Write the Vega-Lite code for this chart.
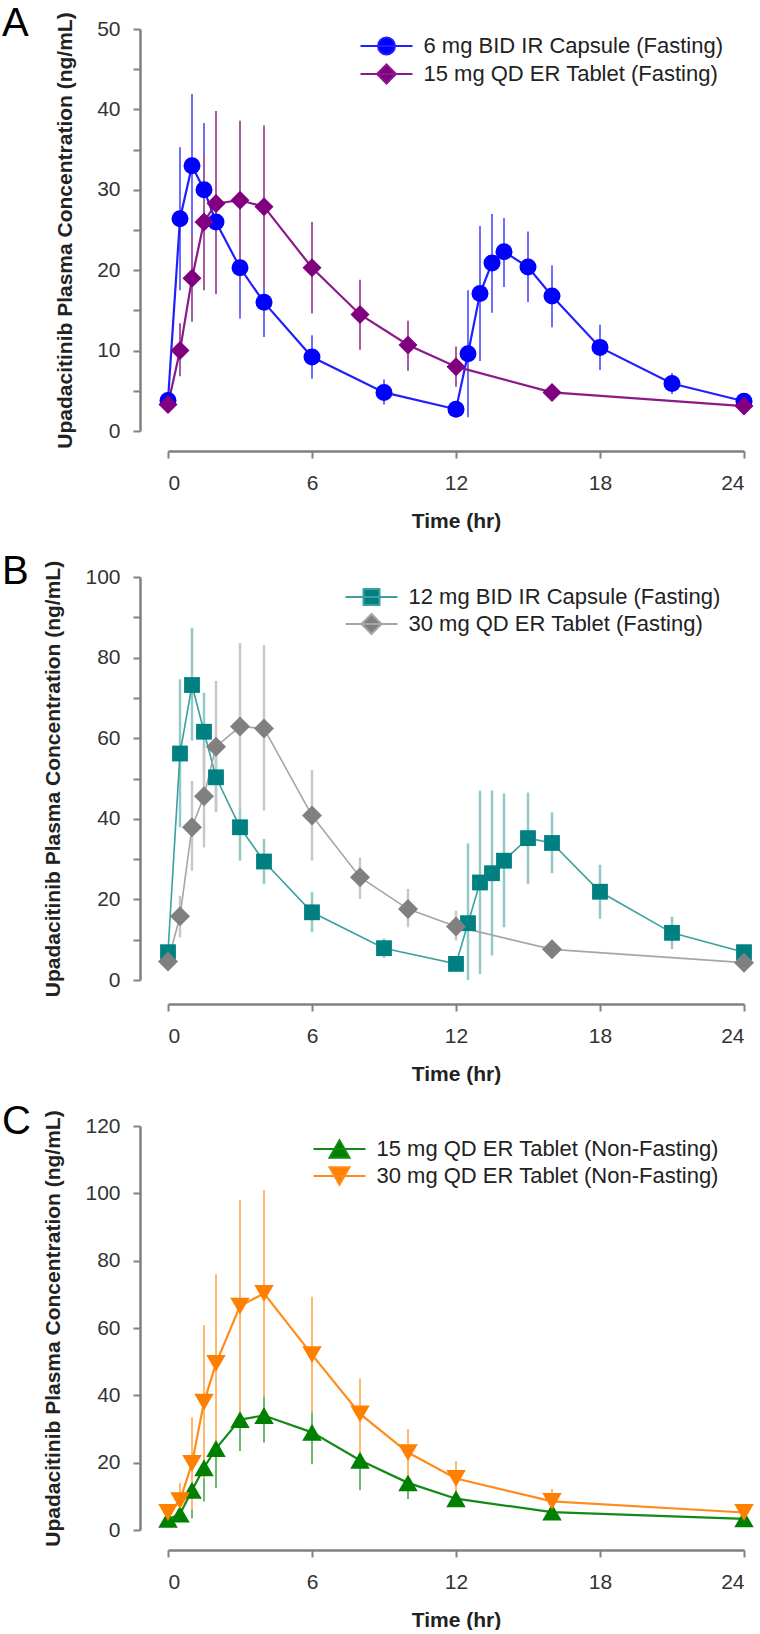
{
"$schema": "https://vega.github.io/schema/vega-lite/v6.json",
"autosize": {"type": "pad"},
"padding": {"left": 2, "top": 3, "right": 0, "bottom": 0},
"background": "white",
"bounds": "flush",
"spacing": 146,
"resolve": {"scale": {"color": "independent", "fill": "independent", "stroke": "independent", "shape": "independent", "size": "independent"}},
"config": {
  "font": "Liberation Sans",
  "view": {"stroke": null},
  "axis": {"grid": false, "domainColor": "#808080", "domainWidth": 2.5, "tickColor": "#808080", "tickWidth": 2, "tickSize": 7,
    "labelFont": "Liberation Sans", "labelFontSize": 21, "labelColor": "#333333",
    "titleFont": "Liberation Sans", "titleFontSize": 21, "titleFontWeight": "bold", "titleColor": "#222222"},
  "legend": {"orient": "none", "labelFont": "Liberation Sans", "labelFontSize": 22, "labelColor": "#222222", "labelLimit": 500,
    "symbolOffset": 15.5, "labelOffset": 26, "rowPadding": 1, "padding": 0, "symbolSize": 4, "symbolStrokeWidth": 2, "symbolOpacity": 1},
  "title": {"font": "Liberation Sans", "fontSize": 40, "fontWeight": "normal", "color": "#000000", "anchor": "start", "frame": "group", "offset": 0}
},
"datasets": {"pk": [
{"panel":"A","series":"6 mg BID IR Capsule (Fasting)","time":0,"conc":3.8,"lo":3.0,"hi":4.6},
{"panel":"A","series":"6 mg BID IR Capsule (Fasting)","time":0.5,"conc":26.4,"lo":17.5,"hi":35.3},
{"panel":"A","series":"6 mg BID IR Capsule (Fasting)","time":1,"conc":33.0,"lo":24.1,"hi":41.9},
{"panel":"A","series":"6 mg BID IR Capsule (Fasting)","time":1.5,"conc":30.0,"lo":21.7,"hi":38.3},
{"panel":"A","series":"6 mg BID IR Capsule (Fasting)","time":2,"conc":26.0,"lo":20.0,"hi":32.0},
{"panel":"A","series":"6 mg BID IR Capsule (Fasting)","time":3,"conc":20.3,"lo":14.0,"hi":26.6},
{"panel":"A","series":"6 mg BID IR Capsule (Fasting)","time":4,"conc":16.0,"lo":11.7,"hi":20.3},
{"panel":"A","series":"6 mg BID IR Capsule (Fasting)","time":6,"conc":9.2,"lo":6.5,"hi":11.9},
{"panel":"A","series":"6 mg BID IR Capsule (Fasting)","time":9,"conc":4.8,"lo":3.3,"hi":6.4},
{"panel":"A","series":"6 mg BID IR Capsule (Fasting)","time":12,"conc":2.7,"lo":2.0,"hi":3.4},
{"panel":"A","series":"6 mg BID IR Capsule (Fasting)","time":12.5,"conc":9.6,"lo":1.7,"hi":17.5},
{"panel":"A","series":"6 mg BID IR Capsule (Fasting)","time":13,"conc":17.1,"lo":8.7,"hi":25.5},
{"panel":"A","series":"6 mg BID IR Capsule (Fasting)","time":13.5,"conc":20.9,"lo":14.7,"hi":27.0},
{"panel":"A","series":"6 mg BID IR Capsule (Fasting)","time":14,"conc":22.3,"lo":17.9,"hi":26.5},
{"panel":"A","series":"6 mg BID IR Capsule (Fasting)","time":15,"conc":20.4,"lo":16.0,"hi":24.8},
{"panel":"A","series":"6 mg BID IR Capsule (Fasting)","time":16,"conc":16.8,"lo":12.9,"hi":20.6},
{"panel":"A","series":"6 mg BID IR Capsule (Fasting)","time":18,"conc":10.4,"lo":7.6,"hi":13.2},
{"panel":"A","series":"6 mg BID IR Capsule (Fasting)","time":21,"conc":5.9,"lo":4.6,"hi":7.2},
{"panel":"A","series":"6 mg BID IR Capsule (Fasting)","time":24,"conc":3.7,"lo":3.0,"hi":4.4},
{"panel":"A","series":"15 mg QD ER Tablet (Fasting)","time":0,"conc":3.3,"lo":2.6,"hi":4.0},
{"panel":"A","series":"15 mg QD ER Tablet (Fasting)","time":0.5,"conc":10.0,"lo":6.8,"hi":13.4},
{"panel":"A","series":"15 mg QD ER Tablet (Fasting)","time":1,"conc":19.0,"lo":13.6,"hi":24.4},
{"panel":"A","series":"15 mg QD ER Tablet (Fasting)","time":1.5,"conc":26.0,"lo":17.5,"hi":34.5},
{"panel":"A","series":"15 mg QD ER Tablet (Fasting)","time":2,"conc":28.3,"lo":17.0,"hi":39.8},
{"panel":"A","series":"15 mg QD ER Tablet (Fasting)","time":3,"conc":28.7,"lo":18.8,"hi":38.6},
{"panel":"A","series":"15 mg QD ER Tablet (Fasting)","time":4,"conc":27.9,"lo":17.8,"hi":38.0},
{"panel":"A","series":"15 mg QD ER Tablet (Fasting)","time":6,"conc":20.3,"lo":14.6,"hi":26.0},
{"panel":"A","series":"15 mg QD ER Tablet (Fasting)","time":8,"conc":14.5,"lo":10.1,"hi":18.8},
{"panel":"A","series":"15 mg QD ER Tablet (Fasting)","time":10,"conc":10.7,"lo":7.5,"hi":13.7},
{"panel":"A","series":"15 mg QD ER Tablet (Fasting)","time":12,"conc":8.0,"lo":5.5,"hi":10.5},
{"panel":"A","series":"15 mg QD ER Tablet (Fasting)","time":16,"conc":4.8,"lo":4.0,"hi":5.6},
{"panel":"A","series":"15 mg QD ER Tablet (Fasting)","time":24,"conc":3.1,"lo":2.5,"hi":3.7},
{"panel":"B","series":"12 mg BID IR Capsule (Fasting)","time":0,"conc":6.9,"lo":5.0,"hi":8.8},
{"panel":"B","series":"12 mg BID IR Capsule (Fasting)","time":0.5,"conc":56.2,"lo":37.9,"hi":74.6},
{"panel":"B","series":"12 mg BID IR Capsule (Fasting)","time":1,"conc":73.2,"lo":59.4,"hi":87.4},
{"panel":"B","series":"12 mg BID IR Capsule (Fasting)","time":1.5,"conc":61.6,"lo":51.9,"hi":71.3},
{"panel":"B","series":"12 mg BID IR Capsule (Fasting)","time":2,"conc":50.3,"lo":42.0,"hi":58.6},
{"panel":"B","series":"12 mg BID IR Capsule (Fasting)","time":3,"conc":37.9,"lo":29.6,"hi":42.8},
{"panel":"B","series":"12 mg BID IR Capsule (Fasting)","time":4,"conc":29.4,"lo":23.8,"hi":35.0},
{"panel":"B","series":"12 mg BID IR Capsule (Fasting)","time":6,"conc":16.8,"lo":11.9,"hi":21.8},
{"panel":"B","series":"12 mg BID IR Capsule (Fasting)","time":9,"conc":7.9,"lo":5.5,"hi":10.3},
{"panel":"B","series":"12 mg BID IR Capsule (Fasting)","time":12,"conc":4.0,"lo":2.0,"hi":6.0},
{"panel":"B","series":"12 mg BID IR Capsule (Fasting)","time":12.5,"conc":14.1,"lo":0.0,"hi":33.9},
{"panel":"B","series":"12 mg BID IR Capsule (Fasting)","time":13,"conc":24.2,"lo":1.5,"hi":47.0},
{"panel":"B","series":"12 mg BID IR Capsule (Fasting)","time":13.5,"conc":26.5,"lo":6.1,"hi":47.0},
{"panel":"B","series":"12 mg BID IR Capsule (Fasting)","time":14,"conc":29.6,"lo":13.1,"hi":46.3},
{"panel":"B","series":"12 mg BID IR Capsule (Fasting)","time":15,"conc":35.2,"lo":23.8,"hi":46.5},
{"panel":"B","series":"12 mg BID IR Capsule (Fasting)","time":16,"conc":34.0,"lo":26.5,"hi":41.6},
{"panel":"B","series":"12 mg BID IR Capsule (Fasting)","time":18,"conc":21.9,"lo":15.2,"hi":28.6},
{"panel":"B","series":"12 mg BID IR Capsule (Fasting)","time":21,"conc":11.7,"lo":7.7,"hi":15.7},
{"panel":"B","series":"12 mg BID IR Capsule (Fasting)","time":24,"conc":6.9,"lo":5.0,"hi":8.8},
{"panel":"B","series":"30 mg QD ER Tablet (Fasting)","time":0,"conc":4.6,"lo":3.5,"hi":5.7},
{"panel":"B","series":"30 mg QD ER Tablet (Fasting)","time":0.5,"conc":15.8,"lo":10.6,"hi":20.9},
{"panel":"B","series":"30 mg QD ER Tablet (Fasting)","time":1,"conc":37.9,"lo":27.1,"hi":49.4},
{"panel":"B","series":"30 mg QD ER Tablet (Fasting)","time":1.5,"conc":45.6,"lo":32.9,"hi":57.7},
{"panel":"B","series":"30 mg QD ER Tablet (Fasting)","time":2,"conc":57.9,"lo":41.6,"hi":74.2},
{"panel":"B","series":"30 mg QD ER Tablet (Fasting)","time":3,"conc":62.9,"lo":42.2,"hi":83.6},
{"panel":"B","series":"30 mg QD ER Tablet (Fasting)","time":4,"conc":62.4,"lo":42.0,"hi":83.1},
{"panel":"B","series":"30 mg QD ER Tablet (Fasting)","time":6,"conc":40.8,"lo":29.6,"hi":52.1},
{"panel":"B","series":"30 mg QD ER Tablet (Fasting)","time":8,"conc":25.5,"lo":20.1,"hi":30.4},
{"panel":"B","series":"30 mg QD ER Tablet (Fasting)","time":10,"conc":17.6,"lo":13.1,"hi":22.6},
{"panel":"B","series":"30 mg QD ER Tablet (Fasting)","time":12,"conc":13.3,"lo":9.8,"hi":17.2},
{"panel":"B","series":"30 mg QD ER Tablet (Fasting)","time":16,"conc":7.6,"lo":6.5,"hi":8.7},
{"panel":"B","series":"30 mg QD ER Tablet (Fasting)","time":24,"conc":4.3,"lo":3.5,"hi":5.1},
{"panel":"C","series":"15 mg QD ER Tablet (Non-Fasting)","time":0,"conc":3.2,"lo":2.5,"hi":3.9},
{"panel":"C","series":"15 mg QD ER Tablet (Non-Fasting)","time":0.5,"conc":4.7,"lo":2.5,"hi":6.9},
{"panel":"C","series":"15 mg QD ER Tablet (Non-Fasting)","time":1,"conc":11.8,"lo":3.5,"hi":20.1},
{"panel":"C","series":"15 mg QD ER Tablet (Non-Fasting)","time":1.5,"conc":18.5,"lo":8.5,"hi":28.5},
{"panel":"C","series":"15 mg QD ER Tablet (Non-Fasting)","time":2,"conc":24.2,"lo":12.5,"hi":35.9},
{"panel":"C","series":"15 mg QD ER Tablet (Non-Fasting)","time":3,"conc":32.8,"lo":23.5,"hi":42.1},
{"panel":"C","series":"15 mg QD ER Tablet (Non-Fasting)","time":4,"conc":34.0,"lo":26.0,"hi":42.0},
{"panel":"C","series":"15 mg QD ER Tablet (Non-Fasting)","time":6,"conc":29.0,"lo":19.5,"hi":38.5},
{"panel":"C","series":"15 mg QD ER Tablet (Non-Fasting)","time":8,"conc":20.7,"lo":11.8,"hi":29.6},
{"panel":"C","series":"15 mg QD ER Tablet (Non-Fasting)","time":10,"conc":14.0,"lo":9.2,"hi":18.8},
{"panel":"C","series":"15 mg QD ER Tablet (Non-Fasting)","time":12,"conc":9.3,"lo":6.8,"hi":11.8},
{"panel":"C","series":"15 mg QD ER Tablet (Non-Fasting)","time":16,"conc":5.3,"lo":4.3,"hi":6.3},
{"panel":"C","series":"15 mg QD ER Tablet (Non-Fasting)","time":24,"conc":3.3,"lo":2.6,"hi":4.0},
{"panel":"C","series":"30 mg QD ER Tablet (Non-Fasting)","time":0,"conc":5.2,"lo":3.7,"hi":6.7},
{"panel":"C","series":"30 mg QD ER Tablet (Non-Fasting)","time":0.5,"conc":8.7,"lo":3.4,"hi":14.0},
{"panel":"C","series":"30 mg QD ER Tablet (Non-Fasting)","time":1,"conc":19.8,"lo":6.1,"hi":33.5},
{"panel":"C","series":"30 mg QD ER Tablet (Non-Fasting)","time":1.5,"conc":38.0,"lo":15.2,"hi":60.9},
{"panel":"C","series":"30 mg QD ER Tablet (Non-Fasting)","time":2,"conc":49.5,"lo":23.0,"hi":76.0},
{"panel":"C","series":"30 mg QD ER Tablet (Non-Fasting)","time":3,"conc":66.5,"lo":35.0,"hi":98.0},
{"panel":"C","series":"30 mg QD ER Tablet (Non-Fasting)","time":4,"conc":70.3,"lo":39.6,"hi":101.0},
{"panel":"C","series":"30 mg QD ER Tablet (Non-Fasting)","time":6,"conc":52.1,"lo":34.9,"hi":69.3},
{"panel":"C","series":"30 mg QD ER Tablet (Non-Fasting)","time":8,"conc":34.5,"lo":22.5,"hi":45.0},
{"panel":"C","series":"30 mg QD ER Tablet (Non-Fasting)","time":10,"conc":23.0,"lo":16.0,"hi":30.0},
{"panel":"C","series":"30 mg QD ER Tablet (Non-Fasting)","time":12,"conc":15.3,"lo":10.1,"hi":20.5},
{"panel":"C","series":"30 mg QD ER Tablet (Non-Fasting)","time":16,"conc":8.5,"lo":4.8,"hi":12.2},
{"panel":"C","series":"30 mg QD ER Tablet (Non-Fasting)","time":24,"conc":5.2,"lo":3.7,"hi":6.7}
]},
"data": {"name": "pk"},
"vconcat": [
{
  "width": 576, "height": 402,
  "title": {"text": "A", "dx": -166, "dy": 36},
  "transform": [{"filter": "datum.panel === 'A'"}],
  "encoding": {
    "x": {"field": "time", "type": "quantitative", "scale": {"domain": [0, 24], "nice": false, "zero": false},
      "axis": {"values": [0, 6, 12, 18, 24], "title": "Time (hr)", "offset": 20, "labelPadding": 14, "titlePadding": 17}}
  },
  "layer": [
    {"mark": {"type": "rule", "strokeWidth": 2},
     "encoding": {
       "y": {"field": "lo", "type": "quantitative", "scale": {"domain": [0, 50], "nice": false},
         "axis": {"values": [0,5,10,15,20,25,30,35,40,45,50], "labelExpr": "datum.value % 10 === 0 ? datum.label : ''", "title": "Upadacitinib Plasma Concentration (ng/mL)", "offset": 28, "labelPadding": 13, "titlePadding": 21}},
       "y2": {"field": "hi"},
       "color": {"field": "series", "type": "nominal", "scale": {"domain": ["6 mg BID IR Capsule (Fasting)", "15 mg QD ER Tablet (Fasting)"], "range": ["#6e6eff", "#a55ca5"]}, "legend": null}
     }},
    {"mark": {"type": "line", "strokeWidth": 2.2},
     "encoding": {
       "y": {"field": "conc", "type": "quantitative"},
       "color": {"field": "series", "type": "nominal", "scale": {"domain": ["6 mg BID IR Capsule (Fasting)", "15 mg QD ER Tablet (Fasting)"], "range": ["#1f1fff", "#8a1a8a"]}, "legend": null}
     }},
    {"mark": {"type": "point", "filled": true, "opacity": 1},
     "encoding": {
       "y": {"field": "conc", "type": "quantitative"},
       "shape": {"field": "series", "type": "nominal", "scale": {"domain": ["6 mg BID IR Capsule (Fasting)", "15 mg QD ER Tablet (Fasting)"], "range": ["circle", "diamond"]}, "legend": null},
       "size": {"field": "series", "type": "nominal", "scale": {"domain": ["6 mg BID IR Capsule (Fasting)", "15 mg QD ER Tablet (Fasting)"], "range": [289, 361]}, "legend": null},
       "color": {"field": "series", "type": "nominal", "scale": {"domain": ["6 mg BID IR Capsule (Fasting)", "15 mg QD ER Tablet (Fasting)"], "range": ["#0000ff", "#800080"]}, "legend": null}
     }},
    {"transform": [{"filter": "datum.time < 0"}],
     "mark": {"type": "point", "filled": true, "strokeWidth": 2},
     "encoding": {
       "y": {"field": "conc", "type": "quantitative"},
       "shape": {"field": "series", "type": "nominal", "scale": {"domain": ["6 mg BID IR Capsule (Fasting)", "15 mg QD ER Tablet (Fasting)"], "range": ["M-26,0H26M-8.5,0A8.5,8.5,0,1,0,8.5,0A8.5,8.5,0,1,0,-8.5,0Z", "M-26,0H26M-9.5,0L0,-9.5L9.5,0L0,9.5Z"]}, "legend": {"orient": "none", "legendX": 192, "legendY": 6, "title": null}},
       "fill": {"field": "series", "type": "nominal", "scale": {"domain": ["6 mg BID IR Capsule (Fasting)", "15 mg QD ER Tablet (Fasting)"], "range": ["#0000ff", "#800080"]}, "legend": {"orient": "none", "legendX": 192, "legendY": 6, "title": null}},
       "stroke": {"field": "series", "type": "nominal", "scale": {"domain": ["6 mg BID IR Capsule (Fasting)", "15 mg QD ER Tablet (Fasting)"], "range": ["#1f1fff", "#8a1a8a"]}, "legend": {"orient": "none", "legendX": 192, "legendY": 6, "title": null}}
     }}
  ],
  "resolve": {"scale": {"color": "independent", "shape": "independent", "fill": "independent", "stroke": "independent"}}
},
{
  "width": 576, "height": 403,
  "title": {"text": "B", "dx": -166, "dy": 36},
  "transform": [{"filter": "datum.panel === 'B'"}],
  "encoding": {
    "x": {"field": "time", "type": "quantitative", "scale": {"domain": [0, 24], "nice": false, "zero": false},
      "axis": {"values": [0, 6, 12, 18, 24], "title": "Time (hr)", "offset": 24, "labelPadding": 14, "titlePadding": 17}}
  },
  "layer": [
    {"mark": {"type": "rule", "strokeWidth": 2.5},
     "encoding": {
       "y": {"field": "lo", "type": "quantitative", "scale": {"domain": [0, 100], "nice": false},
         "axis": {"values": [0,10,20,30,40,50,60,70,80,90,100], "labelExpr": "datum.value % 20 === 0 ? datum.label : ''", "title": "Upadacitinib Plasma Concentration (ng/mL)", "offset": 28, "labelPadding": 13, "titlePadding": 21}},
       "y2": {"field": "hi"},
       "color": {"field": "series", "type": "nominal", "scale": {"domain": ["12 mg BID IR Capsule (Fasting)", "30 mg QD ER Tablet (Fasting)"], "range": ["#93c9c9", "#c8c8c8"]}, "legend": null}
     }},
    {"mark": {"type": "line", "strokeWidth": 1.6},
     "encoding": {
       "y": {"field": "conc", "type": "quantitative"},
       "color": {"field": "series", "type": "nominal", "scale": {"domain": ["12 mg BID IR Capsule (Fasting)", "30 mg QD ER Tablet (Fasting)"], "range": ["#3aa0a0", "#a6a6a6"]}, "legend": null}
     }},
    {"mark": {"type": "point", "filled": true, "opacity": 1},
     "encoding": {
       "y": {"field": "conc", "type": "quantitative"},
       "shape": {"field": "series", "type": "nominal", "scale": {"domain": ["12 mg BID IR Capsule (Fasting)", "30 mg QD ER Tablet (Fasting)"], "range": ["square", "diamond"]}, "legend": null},
       "size": {"field": "series", "type": "nominal", "scale": {"domain": ["12 mg BID IR Capsule (Fasting)", "30 mg QD ER Tablet (Fasting)"], "range": [250, 400]}, "legend": null},
       "color": {"field": "series", "type": "nominal", "scale": {"domain": ["12 mg BID IR Capsule (Fasting)", "30 mg QD ER Tablet (Fasting)"], "range": ["#008080", "#808080"]}, "legend": null}
     }},
    {"transform": [{"filter": "datum.time < 0"}],
     "mark": {"type": "point", "filled": true, "strokeWidth": 1.6},
     "encoding": {
       "y": {"field": "conc", "type": "quantitative"},
       "shape": {"field": "series", "type": "nominal", "scale": {"domain": ["12 mg BID IR Capsule (Fasting)", "30 mg QD ER Tablet (Fasting)"], "range": ["M-26,0H26M-8,-8H8V8H-8Z", "M-26,0H26M-10,0L0,-10L10,0L0,10Z"]}, "legend": {"orient": "none", "legendX": 177, "legendY": 9, "title": null}},
       "fill": {"field": "series", "type": "nominal", "scale": {"domain": ["12 mg BID IR Capsule (Fasting)", "30 mg QD ER Tablet (Fasting)"], "range": ["#008080", "#808080"]}, "legend": {"orient": "none", "legendX": 177, "legendY": 9, "title": null}},
       "stroke": {"field": "series", "type": "nominal", "scale": {"domain": ["12 mg BID IR Capsule (Fasting)", "30 mg QD ER Tablet (Fasting)"], "range": ["#3aa0a0", "#a6a6a6"]}, "legend": {"orient": "none", "legendX": 177, "legendY": 9, "title": null}}
     }}
  ],
  "resolve": {"scale": {"color": "independent", "shape": "independent", "fill": "independent", "stroke": "independent"}}
},
{
  "width": 576, "height": 404,
  "title": {"text": "C", "dx": -166, "dy": 36},
  "transform": [{"filter": "datum.panel === 'C'"}],
  "encoding": {
    "x": {"field": "time", "type": "quantitative", "scale": {"domain": [0, 24], "nice": false, "zero": false},
      "axis": {"values": [0, 6, 12, 18, 24], "title": "Time (hr)", "offset": 20, "labelPadding": 14, "titlePadding": 17}}
  },
  "layer": [
    {"mark": {"type": "rule", "strokeWidth": 2},
     "encoding": {
       "y": {"field": "lo", "type": "quantitative", "scale": {"domain": [0, 120], "nice": false},
         "axis": {"values": [0,10,20,30,40,50,60,70,80,90,100,110,120], "labelExpr": "datum.value % 20 === 0 ? datum.label : ''", "title": "Upadacitinib Plasma Concentration (ng/mL)", "offset": 28, "labelPadding": 13, "titlePadding": 21}},
       "y2": {"field": "hi"},
       "color": {"field": "series", "type": "nominal", "scale": {"domain": ["15 mg QD ER Tablet (Non-Fasting)", "30 mg QD ER Tablet (Non-Fasting)"], "range": ["#6fb86f", "#ffb870"]}, "legend": null}
     }},
    {"mark": {"type": "line", "strokeWidth": 2.2},
     "encoding": {
       "y": {"field": "conc", "type": "quantitative"},
       "color": {"field": "series", "type": "nominal", "scale": {"domain": ["15 mg QD ER Tablet (Non-Fasting)", "30 mg QD ER Tablet (Non-Fasting)"], "range": ["#138a13", "#ff8c1a"]}, "legend": null}
     }},
    {"mark": {"type": "point", "filled": true, "opacity": 1, "size": 380},
     "encoding": {
       "y": {"field": "conc", "type": "quantitative"},
       "shape": {"field": "series", "type": "nominal", "scale": {"domain": ["15 mg QD ER Tablet (Non-Fasting)", "30 mg QD ER Tablet (Non-Fasting)"], "range": ["triangle-up", "triangle-down"]}, "legend": null},
       "color": {"field": "series", "type": "nominal", "scale": {"domain": ["15 mg QD ER Tablet (Non-Fasting)", "30 mg QD ER Tablet (Non-Fasting)"], "range": ["#008000", "#ff8000"]}, "legend": null}
     }},
    {"transform": [{"filter": "datum.time < 0"}],
     "mark": {"type": "point", "filled": true, "strokeWidth": 2},
     "encoding": {
       "y": {"field": "conc", "type": "quantitative"},
       "shape": {"field": "series", "type": "nominal", "scale": {"domain": ["15 mg QD ER Tablet (Non-Fasting)", "30 mg QD ER Tablet (Non-Fasting)"], "range": ["M-26,0H26M0,-8.7L10,8.7L-10,8.7Z", "M-26,0H26M0,8.7L10,-8.7L-10,-8.7Z"]}, "legend": {"orient": "none", "legendX": 145, "legendY": 12, "title": null}},
       "fill": {"field": "series", "type": "nominal", "scale": {"domain": ["15 mg QD ER Tablet (Non-Fasting)", "30 mg QD ER Tablet (Non-Fasting)"], "range": ["#008000", "#ff8000"]}, "legend": {"orient": "none", "legendX": 145, "legendY": 12, "title": null}},
       "stroke": {"field": "series", "type": "nominal", "scale": {"domain": ["15 mg QD ER Tablet (Non-Fasting)", "30 mg QD ER Tablet (Non-Fasting)"], "range": ["#138a13", "#ff8c1a"]}, "legend": {"orient": "none", "legendX": 145, "legendY": 12, "title": null}}
     }}
  ],
  "resolve": {"scale": {"color": "independent", "shape": "independent", "fill": "independent", "stroke": "independent"}}
}
]
}
